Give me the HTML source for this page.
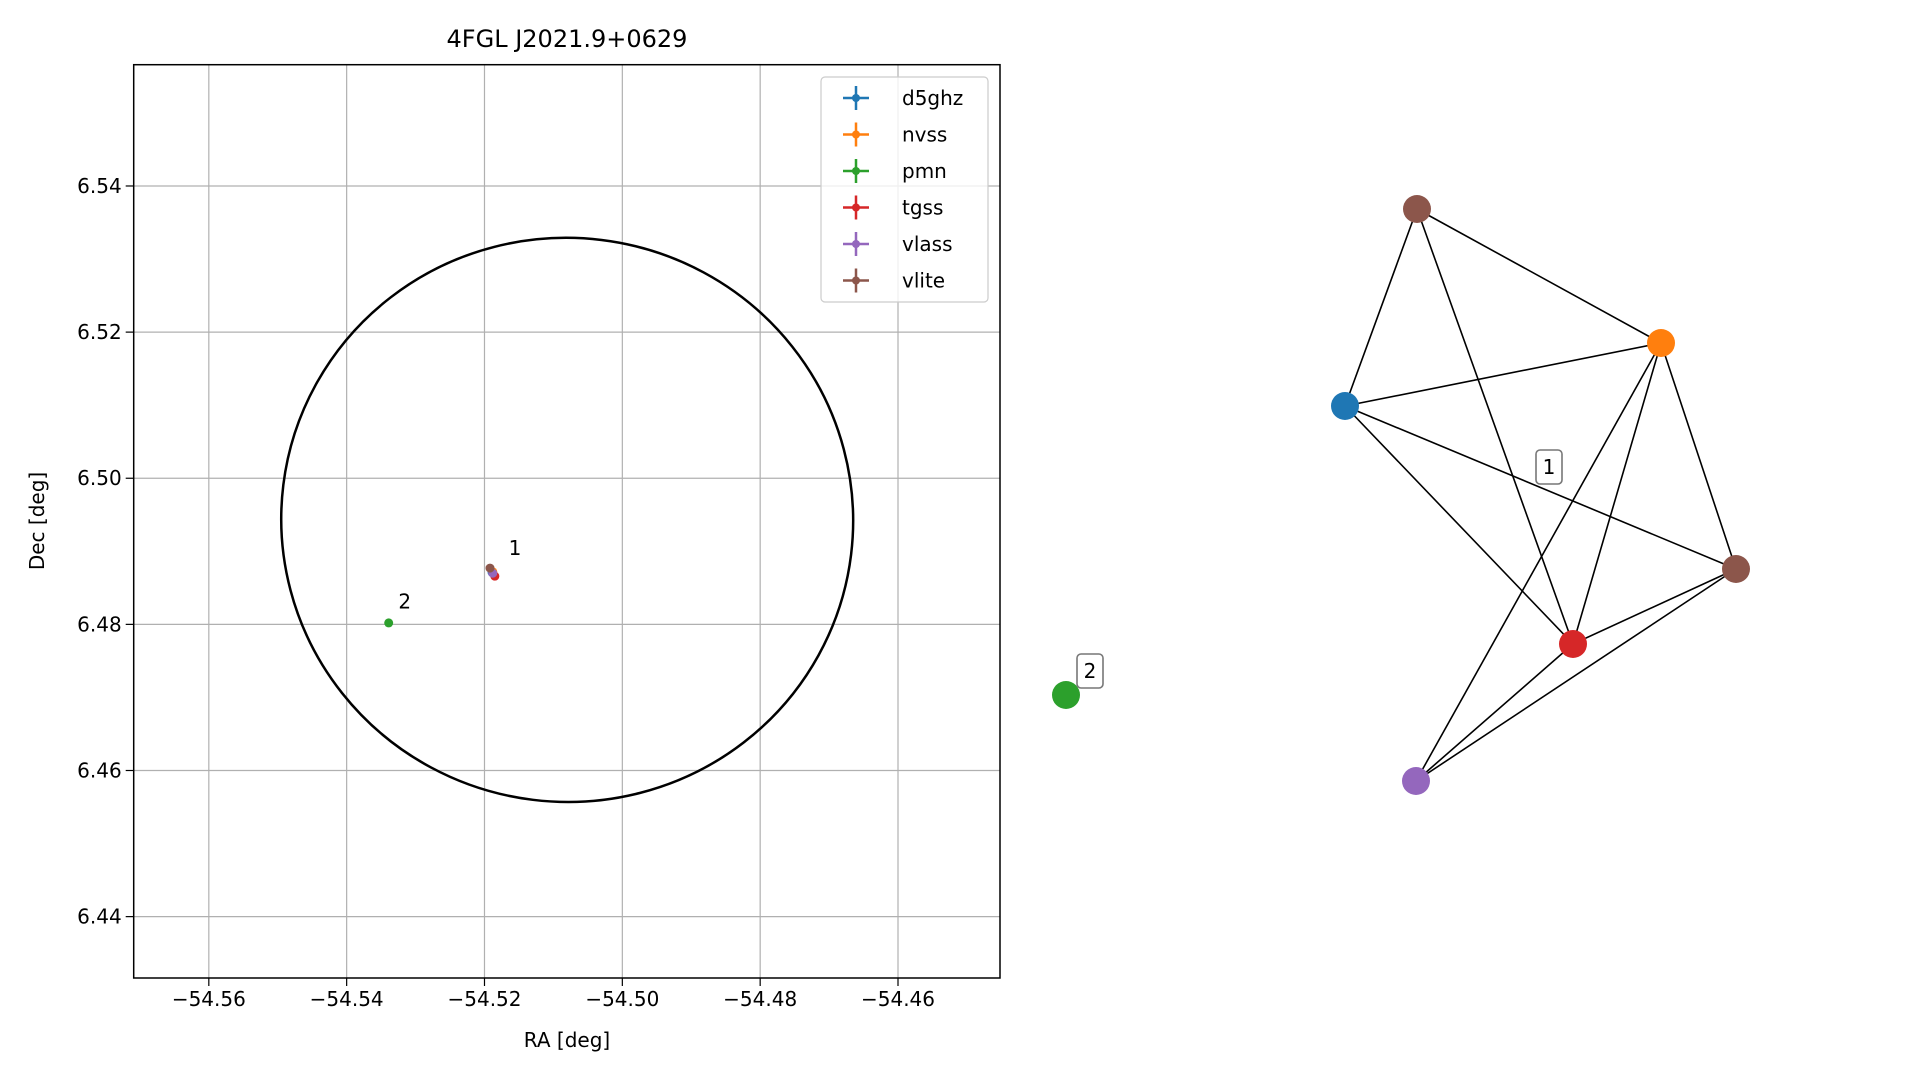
<!DOCTYPE html>
<html><head><meta charset="utf-8"><style>
body{margin:0;background:#fff;}
svg text{font-family:"DejaVu Sans","Liberation Sans",sans-serif;fill:#000;}
</style></head><body>
<svg width="1919" height="1080" viewBox="0 0 1919 1080" xmlns="http://www.w3.org/2000/svg">
<rect width="1919" height="1080" fill="#fff"/>
<g id="chart"></g>
<g id="net"></g>
</svg>
<script>
const NS='http://www.w3.org/2000/svg';
const xTicks=[-54.56,-54.54,-54.52,-54.50,-54.48,-54.46];
const yTicks=[6.44,6.46,6.48,6.50,6.52,6.54];
const srcNames=['d5ghz','nvss','pmn','tgss','vlass','vlite'];
const srcColors=['#1f77b4','#ff7f0e','#2ca02c','#d62728','#9467bd','#8c564b'];
const srcRA=[-54.5189,-54.5188,-54.5339,-54.5185,-54.5188,-54.5192];
const srcDec=[6.4871,6.4872,6.4802,6.4866,6.4870,6.4877];
const groupLabels=['1','2'];
const groupRA=[-54.5165,-54.5325];
const groupDec=[6.4895,6.4822];
const ellRA=-54.5080, ellDec=6.4943, ellRx=0.0415, ellRy=0.0386;
const X0=133.7,X1=1000,Y0=64.7,Y1=978;
const xmin=-54.5709,xmax=-54.4452,ymin=6.4316,ymax=6.5566;
const xs=v=>X0+(v-xmin)/(xmax-xmin)*(X1-X0);
const ys=v=>Y1-(v-ymin)/(ymax-ymin)*(Y1-Y0);
function mk(p,tag,attrs,txt){const e=document.createElementNS(NS,tag);for(const k in attrs)e.setAttribute(k,attrs[k]);if(txt!==undefined)e.textContent=txt;p.appendChild(e);return e;}
const g=document.getElementById('chart');
xTicks.forEach(t=>{const x=xs(t);
 const l=mk(g,'line',{x1:x,x2:x,y1:Y0,y2:Y1,stroke:'#b0b0b0','stroke-width':1.2});
 
 mk(g,'line',{x1:x,x2:x,y1:Y1,y2:Y1+8,stroke:'#000','stroke-width':1.2});
 const tx=mk(g,'text',{x:x,y:Y1+28,'text-anchor':'middle','font-size':'20'},'\u2212'+Math.abs(t).toFixed(2));
 });
yTicks.forEach(t=>{const y=ys(t);
 const l=mk(g,'line',{x1:X0,x2:X1,y1:y,y2:y,stroke:'#b0b0b0','stroke-width':1.2});
 
 mk(g,'line',{x1:X0-8,x2:X0,y1:y,y2:y,stroke:'#000','stroke-width':1.2});
 const tx=mk(g,'text',{x:X0-12,y:y+7,'text-anchor':'end','font-size':'20'},t.toFixed(2));
 });
const cx=xs(ellRA),cy=ys(ellDec),rx=xs(ellRA+ellRx)-cx,ry=cy-ys(ellDec+ellRy);
const el=mk(g,'ellipse',{cx:cx,cy:cy,rx:rx,ry:ry,fill:'none',stroke:'#000','stroke-width':2.5,transform:`rotate(7 ${cx} ${cy})`});

srcRA.forEach((r,i)=>{const c=mk(g,'circle',{cx:xs(r),cy:ys(srcDec[i]),r:4.5,fill:srcColors[i]});
 });
groupLabels.forEach((s,i)=>{const t=mk(g,'text',{x:xs(groupRA[i]),y:ys(groupDec[i]),'font-size':'20'},s);
 });
const fr=mk(g,'rect',{x:X0,y:Y0,width:X1-X0,height:Y1-Y0,fill:'none',stroke:'#000','stroke-width':1.5});

const ti=mk(g,'text',{x:567,y:47,'text-anchor':'middle','font-size':'24'},'4FGL J2021.9+0629');

const xl=mk(g,'text',{x:567,y:1047,'text-anchor':'middle','font-size':'20'},'RA [deg]');

const yl=mk(g,'text',{x:0,y:0,'text-anchor':'middle','font-size':'20',transform:'translate(44,521) rotate(-90)'},'Dec [deg]');

const lg=mk(g,'g',{});
mk(lg,'rect',{x:821,y:77,width:167,height:225,rx:4,fill:'#fff','fill-opacity':0.8,stroke:'#ccc','stroke-width':1.2});
srcNames.forEach((n,i)=>{const y=98+i*36.5;const e=mk(lg,'g',{});
 
 mk(e,'line',{x1:843,x2:869,y1:y,y2:y,stroke:srcColors[i],'stroke-width':2.5});
 mk(e,'line',{x1:856,x2:856,y1:y-12,y2:y+12,stroke:srcColors[i],'stroke-width':2.5});
 mk(e,'circle',{cx:856,cy:y,r:4,fill:srcColors[i]});
 mk(e,'text',{x:902,y:y+7,'font-size':'20'},n);});
// network
const nodeColors=['#8c564b','#ff7f0e','#1f77b4','#8c564b','#d62728','#9467bd','#2ca02c'];
const nodeX=[1417,1661,1345,1736,1573,1416,1066];
const nodeY=[209,343,406,569,644,781,695];
const edges=[[0,2],[0,1],[0,4],[2,1],[2,3],[2,4],[1,5],[1,4],[1,3],[4,3],[5,4],[5,3]];
const n=document.getElementById('net');
edges.forEach(([a,b])=>{const l=mk(n,'line',{x1:nodeX[a],y1:nodeY[a],x2:nodeX[b],y2:nodeY[b],stroke:'#000','stroke-width':1.6});
 });
nodeX.forEach((x,i)=>{const c=mk(n,'circle',{cx:x,cy:nodeY[i],r:14,fill:nodeColors[i]});
 });
const boxX=[1549,1090],boxY=[467,671];
groupLabels.forEach((s,i)=>{const b=mk(n,'g',{});
 
 mk(b,'rect',{x:boxX[i]-13,y:boxY[i]-17,width:26,height:34,rx:4,fill:'#fff',stroke:'#777','stroke-width':1.6});
 mk(b,'text',{x:boxX[i],y:boxY[i]+7,'text-anchor':'middle','font-size':'20'},s);});
</script>
</body></html>
